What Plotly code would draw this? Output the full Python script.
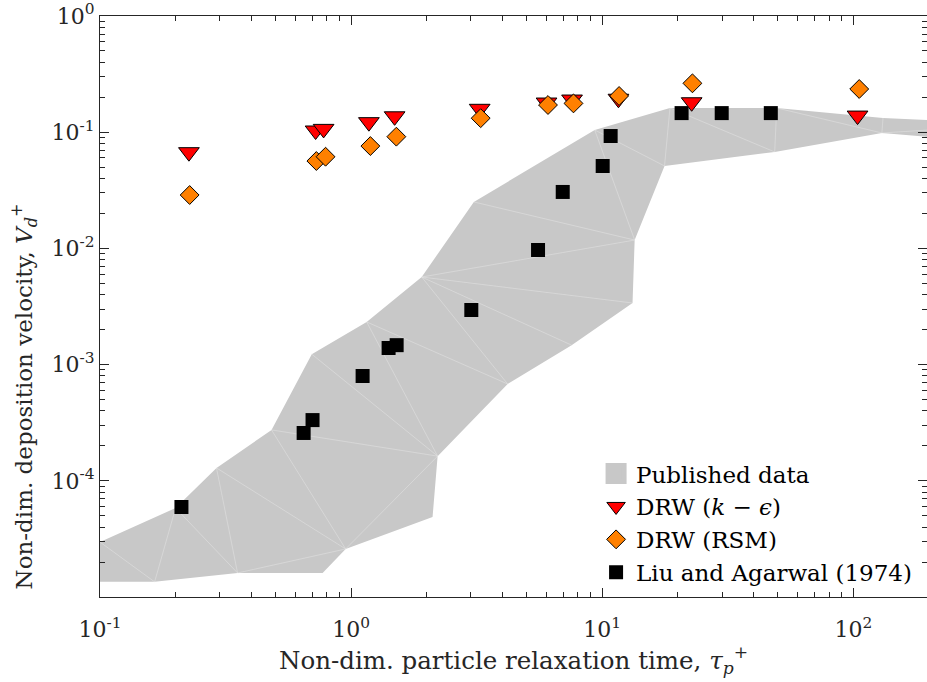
import numpy as np
import plotly.graph_objects as go

# ---------------- data ----------------
# Published data band: polygon outline (upper edge left->right, then lower edge right->left)
band_x = [0.1, 0.200, 0.291, 0.482, 0.697, 1.153, 1.91, 3.08, 9.33, 18.6, 49.5, 131.2, 200, 200,
          200, 129.9, 48.6, 17.7, 13.46, 13.2, 7.55, 4.20, 2.21, 2.11, 0.951, 0.770, 0.353, 0.165, 0.1]
band_y = [2.97e-5, 5.83e-5, 1.29e-4, 2.74e-4, 1.23e-3, 2.33e-3, 5.67e-3, 0.0251, 0.1045, 0.1616, 0.1616, 0.1325, 0.127, 0.1045,
          0.091, 0.0985, 0.0676, 0.0512, 0.0118, 3.39e-3, 1.47e-3, 6.81e-4, 1.63e-4, 4.88e-5, 2.59e-5, 1.61e-5, 1.61e-5, 1.35e-5, 1.35e-5]
# interior triangulation edges (pairs of vertex indices of the band polygon)
band_edges = [(0, 27), (27, 1), (1, 26), (26, 2), (2, 24), (26, 24), (3, 24), (3, 22), (24, 22),
              (4, 22), (5, 22), (5, 21), (6, 21), (6, 20), (6, 19), (6, 18), (7, 18), (8, 18),
              (8, 17), (9, 17), (9, 16), (10, 16), (10, 15), (11, 15), (15, 13)]

# DRW (k - eps)
ke_x = [0.226, 0.722, 0.777, 1.177, 1.49, 3.25, 6.0, 7.58, 11.6, 22.7, 103.9]
ke_y = [0.0673, 0.1034, 0.1068, 0.122, 0.137, 0.159, 0.180, 0.191, 0.194, 0.181, 0.139]

# DRW (RSM)
rsm_x = [0.2275, 0.727, 0.791, 1.193, 1.514, 3.28, 6.08, 7.68, 11.67, 22.86, 105.5]
rsm_y = [0.0288, 0.0565, 0.0615, 0.076, 0.0915, 0.132, 0.1714, 0.177, 0.205, 0.2635, 0.2354]

# Liu and Agarwal (1974)
liu_x = [0.211, 0.647, 0.702, 1.111, 1.41, 1.518, 3.01, 5.55, 6.96, 10.04, 10.8, 20.7, 29.9, 46.9]
liu_y = [5.95e-5, 2.58e-4, 3.33e-4, 7.98e-4, 1.39e-3, 1.47e-3, 2.95e-3, 9.69e-3, 0.0306, 0.0512,
         0.0927, 0.146, 0.146, 0.146]

xtick_vals = [0.1, 1, 10, 100]
xtick_text = ["10<sup>-1</sup>", "10<sup>0</sup>", "10<sup>1</sup>", "10<sup>2</sup>"]
ytick_vals = [1e-5, 1e-4, 1e-3, 1e-2, 1e-1, 1]
ytick_text = ["", "10<sup>-4</sup>", "10<sup>-3</sup>", "10<sup>-2</sup>", "10<sup>-1</sup>", "10<sup>0</sup>"]

# ---------------- figure ----------------
INK = "#262626"
FONT = "DejaVu Serif, Liberation Serif, serif"
GREY = "#c8c8c8"

fig = go.Figure()

fig.add_trace(go.Scatter(
    x=band_x, y=band_y, mode="lines", fill="toself", fillcolor=GREY,
    line=dict(width=0, color=GREY), showlegend=False, hoverinfo="skip"))

ex, ey = [], []
for a, b in band_edges:
    ex += [band_x[a], band_x[b], None]
    ey += [band_y[a], band_y[b], None]
fig.add_trace(go.Scatter(x=ex, y=ey, mode="lines", line=dict(color="rgba(232,232,232,0.75)", width=0.6),
                         showlegend=False, hoverinfo="skip"))

# legend patch for the band
fig.add_trace(go.Scatter(
    x=[None], y=[None], mode="markers", name="Published data", legendrank=1,
    marker=dict(symbol="square", size=16, color=GREY, line=dict(width=5, color=GREY))))

fig.add_trace(go.Scatter(
    x=liu_x, y=liu_y, mode="markers", name="Liu and Agarwal (1974)", legendrank=4,
    marker=dict(symbol="square", size=14, color="black", line=dict(width=0))))

fig.add_trace(go.Scatter(
    x=ke_x, y=ke_y, mode="markers", name="DRW (<i>k</i> − <i>ϵ</i>)", legendrank=2,
    marker=dict(symbol="triangle-down", size=18, color="#ff0000", line=dict(width=1, color="black"))))

fig.add_trace(go.Scatter(
    x=rsm_x, y=rsm_y, mode="markers", name="DRW (RSM)", legendrank=3,
    marker=dict(symbol="diamond", size=14.5, color="#ff8000", line=dict(width=1, color="black"))))

minor_x = [m * 10.0 ** e for e in range(-1, 3) for m in range(2, 10) if m * 10.0 ** e <= 200]
minor_y = [m * 10.0 ** e for e in range(-5, 0) for m in range(2, 10)]

axis_common = dict(type="log", showline=True, linecolor=INK, linewidth=1, mirror="ticks",
                   ticks="inside", ticklen=9, tickwidth=1, tickcolor=INK, showgrid=False,
                   zeroline=False, ticklabeloverflow="allow",
                   tickfont=dict(family=FONT, size=22, color=INK))

fig.update_layout(
    width=927, height=682,
    margin=dict(l=100, r=0, t=16, b=85),
    plot_bgcolor="white", paper_bgcolor="white",
    font=dict(family=FONT, size=23, color=INK),
    showlegend=True,
    legend=dict(x=0.988, xanchor="right", y=0.005, yanchor="bottom",
                bgcolor="rgba(255,255,255,0)", borderwidth=0,
                font=dict(family=FONT, size=23, color="black"),
                tracegroupgap=0, itemwidth=30),
    xaxis=dict(axis_common, range=[-1, np.log10(196.4)], tickvals=xtick_vals, ticktext=xtick_text,
               ticklabelstandoff=13,
               minor=dict(ticks="inside", ticklen=5, tickcolor=INK, tickvals=minor_x),
               title=dict(text="Non-dim. particle relaxation time, <i>τ</i><sub><i>p</i></sub><sup>+</sup>",
                          font=dict(family=FONT, size=24.5, color=INK), standoff=4)),
    yaxis=dict(axis_common, range=[-5, 0], tickvals=ytick_vals, ticktext=ytick_text,
               minor=dict(ticks="inside", ticklen=5, tickcolor=INK, tickvals=minor_y)),
    annotations=[dict(text="Non-dim. deposition velocity, <i>V</i><sub><i>d</i></sub><sup>+</sup>",
                      xref="paper", yref="paper", x=-0.092, y=0.345, xanchor="center", yanchor="middle",
                      textangle=-90, showarrow=False, font=dict(family=FONT, size=23, color=INK))],
)

fig.write_html("out.html")
